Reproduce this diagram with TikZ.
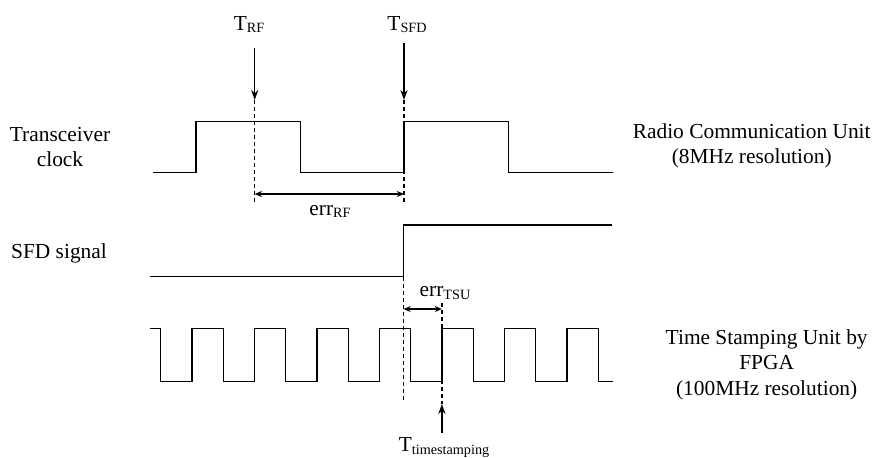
\documentclass[tikz,border=0pt]{standalone}
\usepackage{fontspec}
\setmainfont{Liberation Serif}
\usetikzlibrary{arrows.meta}
\newcommand{\lowtext}[1]{\raisebox{-1.4pt}{\fontsize{7.1}{8}\selectfont #1}}

\begin{document}
\begin{tikzpicture}[
  x=0.5pt, y=-0.5pt,
  wave/.style={line width=0.7pt, line join=miter},
  arrow/.style={-{Stealth[length=5pt, width=3.6pt]}, line width=0.6pt},
  span/.style={{Stealth[length=3.6pt, width=3pt]}-{Stealth[length=3.6pt, width=3pt]}, line width=0.8pt},
  guide/.style={dash pattern=on 2.2pt off 1.3pt, line width=0.6pt},
  label/.style={font=\fontsize{10.7}{12.6}\selectfont, inner sep=0pt, align=center}
]
\useasboundingbox (0,0) rectangle (880,457);

% Signal names (base = last line)
\node[label, anchor=base] (clkname) at (60,166.7) {Transceiver\\clock};
\node[label, anchor=base] (sfdname) at (59,258.3) {SFD signal};
\node[label, anchor=base] (rcu) at (751.7,163.3) {Radio Communication Unit\\(8MHz resolution)};
\node[label, anchor=base] (tsu) at (766.7,395) {Time Stamping Unit by\\FPGA\\(100MHz resolution)};

% Waveforms
\draw[wave] (152.7,172.7) -- (196,172.7) -- (196,121.7) -- (300.7,121.7) -- (300.7,172.7)
  -- (404,172.7) -- (404,121.7) -- (508.7,121.7) -- (508.7,172.7) -- (612.7,172.7);
\draw[wave] (150,276.7) -- (403.5,276.7) -- (403.5,225) -- (611.7,225);
\draw[wave] (150,328.3) foreach \k in {0,...,6} {
    -- ({160.7+62.5*\k},328.3) -- ++(0,53.4) -- ++(31.2,0) -- ++(0,-53.4) }
  -- (598.2,328.3) -- (598.2,381.7) -- (612.7,381.7);

% Time marks
\node[label, anchor=base] (trf) at (249,30) {T\lowtext{RF}};
\node[label, anchor=base] (tsfd) at (407,30) {T\lowtext{SFD}};
\node[label, anchor=base] (errrf) at (330,215) {err\lowtext{RF}};
\node[label, anchor=base] (errtsu) at (445,296.7) {err\lowtext{TSU}};
\node[label, anchor=base] (tstamp) at (444,451.7) {T\lowtext{timestamping}};

\coordinate (rf top) at (254.7,48);
\coordinate (rf tip) at (254.7,100);
\coordinate (rf end) at (254.7,205);
\coordinate (sfd top) at (404,43);
\coordinate (sfd tip) at (404,100);
\coordinate (sfd end) at (404,205);
\coordinate (edge top) at (403.5,276.7);
\coordinate (edge end) at (403.5,401.7);
\coordinate (ts top) at (441.9,303);
\coordinate (ts tip) at (441.9,404);
\coordinate (ts base) at (441.9,433);

\draw[arrow] (rf top) -- (rf tip);
\draw[arrow] (sfd top) -- (sfd tip);
\draw[guide] (rf tip) -- (rf end);
\draw[guide] (sfd tip) -- (sfd end);
\draw[span] (rf tip |- 0,194) -- (sfd tip |- 0,194);

\draw[guide] (edge top) -- (edge end);
\draw[guide] (ts top) -- (ts tip);
\draw[arrow] (ts base) -- (ts tip);
\draw[span] (edge top |- 0,309) -- (ts top |- 0,309);
\end{tikzpicture}
\end{document}
